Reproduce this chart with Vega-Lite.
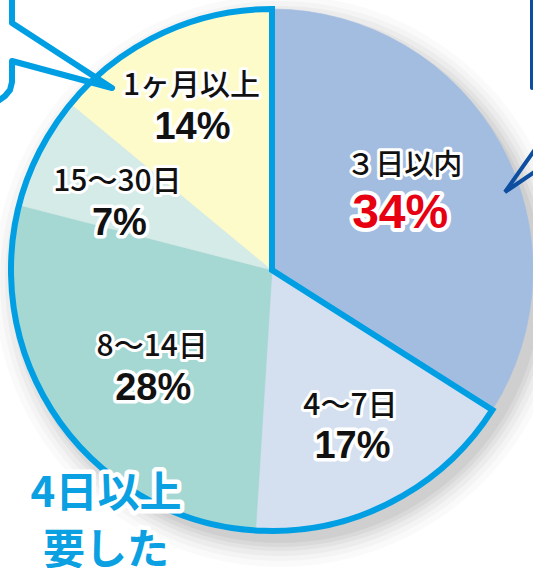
{
  "$schema": "https://vega.github.io/schema/vega-lite/v6.json",
  "width": 544,
  "height": 540,
  "autosize": "none",
  "padding": {"left": 0, "top": 0, "right": 0, "bottom": 28},
  "background": "white",
  "config": {"view": {"stroke": null}},
  "datasets": {
    "slices": [
      {"cat": "３日以内", "share": 0.34, "order": 1},
      {"cat": "4〜7日", "share": 0.17, "order": 2},
      {"cat": "8〜14日", "share": 0.28, "order": 3},
      {"cat": "15〜30日", "share": 0.07, "order": 4},
      {"cat": "1ヶ月以上", "share": 0.14, "order": 5}
    ],
    "group": [
      {"g": "3日以内", "share": 0.34, "order": 1},
      {"g": "4日以上", "share": 0.66, "order": 2}
    ],
    "whole": [{"v": 1}],
    "bubbleL": [
      {"seq": 1, "x": 12, "y": -3},
      {"seq": 2, "x": 12, "y": 23},
      {"seq": 3, "x": 112, "y": 88},
      {"seq": 4, "x": 12, "y": 61},
      {"seq": 5, "x": 12, "y": 82},
      {"seq": 6, "x": 10, "y": 90},
      {"seq": 7, "x": 5, "y": 96},
      {"seq": 8, "x": -2, "y": 101}
    ],
    "bubbleR": [
      {"part": "a", "seq": 1, "x": 532, "y": -3},
      {"part": "a", "seq": 2, "x": 532, "y": 88},
      {"part": "b", "seq": 1, "x": 536, "y": 148},
      {"part": "b", "seq": 2, "x": 505, "y": 192},
      {"part": "b", "seq": 3, "x": 536, "y": 171}
    ],
    "note": [{"t": "4日以上\n要した", "x": 106, "y": 494}]
  },
  "layer": [
    {"data": {"name": "whole"}, "mark": {"type": "arc", "radius": 262, "fill": "#000", "opacity": 0.04, "xOffset": 8, "yOffset": 11}, "encoding": {"theta": {"field": "v", "type": "quantitative"}}},
    {"data": {"name": "whole"}, "mark": {"type": "arc", "radius": 266, "fill": "#000", "opacity": 0.04, "xOffset": 8, "yOffset": 11}, "encoding": {"theta": {"field": "v", "type": "quantitative"}}},
    {"data": {"name": "whole"}, "mark": {"type": "arc", "radius": 270, "fill": "#000", "opacity": 0.035, "xOffset": 8, "yOffset": 11}, "encoding": {"theta": {"field": "v", "type": "quantitative"}}},
    {"data": {"name": "whole"}, "mark": {"type": "arc", "radius": 275, "fill": "#000", "opacity": 0.03, "xOffset": 8, "yOffset": 11}, "encoding": {"theta": {"field": "v", "type": "quantitative"}}},
    {"data": {"name": "whole"}, "mark": {"type": "arc", "radius": 280, "fill": "#000", "opacity": 0.025, "xOffset": 8, "yOffset": 11}, "encoding": {"theta": {"field": "v", "type": "quantitative"}}},
    {"data": {"name": "whole"}, "mark": {"type": "arc", "radius": 286, "fill": "#000", "opacity": 0.02, "xOffset": 8, "yOffset": 11}, "encoding": {"theta": {"field": "v", "type": "quantitative"}}},
    {
      "data": {"name": "slices"},
      "mark": {"type": "arc", "radius": 261, "strokeWidth": 0.6},
      "encoding": {
        "theta": {"field": "share", "type": "quantitative", "stack": true},
        "order": {"field": "order", "type": "quantitative"},
        "color": {"field": "cat", "type": "nominal", "legend": null,
          "scale": {"domain": ["３日以内", "4〜7日", "8〜14日", "15〜30日", "1ヶ月以上"],
                    "range": ["#a3bde1", "#d4dff0", "#a5d8d3", "#d5ebe8", "#fefbcb"]}},
        "stroke": {"field": "cat", "type": "nominal", "legend": null,
          "scale": {"domain": ["３日以内", "4〜7日", "8〜14日", "15〜30日", "1ヶ月以上"],
                    "range": ["#a3bde1", "#d4dff0", "#a5d8d3", "#d5ebe8", "#fefbcb"]}}
      }
    },
    {
      "data": {"name": "group"},
      "mark": {"type": "arc", "radius": 261, "fillOpacity": 0, "stroke": "#009fe3", "strokeWidth": 6, "strokeJoin": "miter"},
      "encoding": {
        "theta": {"field": "share", "type": "quantitative", "stack": true},
        "order": {"field": "order", "type": "quantitative"},
        "strokeOpacity": {"condition": {"test": "datum.g === '4日以上'", "value": 1}, "value": 0}
      }
    },

    {"data": {"name": "slices"}, "mark": {"type": "text", "radius": 152, "dx": -1, "dy": -31, "font": "Noto Sans CJK JP", "fontWeight": 500, "fontSize": 29, "align": "center", "baseline": "middle", "fill": "white", "stroke": "white", "strokeWidth": 6, "strokeJoin": "round"},
     "encoding": {"theta": {"field": "share", "type": "quantitative", "stack": true}, "order": {"field": "order", "type": "quantitative"}, "text": {"field": "cat"},
       "opacity": {"condition": {"test": "datum.order === 1", "value": 1}, "value": 0}}},
    {"data": {"name": "slices"}, "mark": {"type": "text", "radius": 152, "dx": -1, "dy": -31, "font": "Noto Sans CJK JP", "fontWeight": 500, "fontSize": 29, "align": "center", "baseline": "middle", "fill": "#111"},
     "encoding": {"theta": {"field": "share", "type": "quantitative", "stack": true}, "order": {"field": "order", "type": "quantitative"}, "text": {"field": "cat"},
       "opacity": {"condition": {"test": "datum.order === 1", "value": 1}, "value": 0}}},
    {"data": {"name": "slices"}, "mark": {"type": "text", "radius": 152, "dx": -5, "dy": 17, "font": "Liberation Sans", "fontWeight": "bold", "fontSize": 48, "align": "center", "baseline": "middle", "fill": "white", "stroke": "white", "strokeWidth": 8, "strokeJoin": "round"},
     "encoding": {"theta": {"field": "share", "type": "quantitative", "stack": true}, "order": {"field": "order", "type": "quantitative"}, "text": {"field": "share", "type": "quantitative", "format": ".0%"},
       "opacity": {"condition": {"test": "datum.order === 1", "value": 1}, "value": 0}}},
    {"data": {"name": "slices"}, "mark": {"type": "text", "radius": 152, "dx": -5, "dy": 17, "font": "Liberation Sans", "fontWeight": "bold", "fontSize": 48, "align": "center", "baseline": "middle", "fill": "#e60012"},
     "encoding": {"theta": {"field": "share", "type": "quantitative", "stack": true}, "order": {"field": "order", "type": "quantitative"}, "text": {"field": "share", "type": "quantitative", "format": ".0%"},
       "opacity": {"condition": {"test": "datum.order === 1", "value": 1}, "value": 0}}},

    {"data": {"name": "slices"}, "mark": {"type": "text", "radius": 175, "dx": -1, "dy": -20, "font": "Noto Sans CJK JP", "fontWeight": 500, "fontSize": 30, "align": "center", "baseline": "middle", "fill": "white", "stroke": "white", "strokeWidth": 6, "strokeJoin": "round"},
     "encoding": {"theta": {"field": "share", "type": "quantitative", "stack": true}, "order": {"field": "order", "type": "quantitative"}, "text": {"field": "cat"},
       "opacity": {"condition": {"test": "datum.order === 2", "value": 1}, "value": 0}}},
    {"data": {"name": "slices"}, "mark": {"type": "text", "radius": 175, "dx": -1, "dy": -20, "font": "Noto Sans CJK JP", "fontWeight": 500, "fontSize": 30, "align": "center", "baseline": "middle", "fill": "#111"},
     "encoding": {"theta": {"field": "share", "type": "quantitative", "stack": true}, "order": {"field": "order", "type": "quantitative"}, "text": {"field": "cat"},
       "opacity": {"condition": {"test": "datum.order === 2", "value": 1}, "value": 0}}},
    {"data": {"name": "slices"}, "mark": {"type": "text", "radius": 175, "dx": 1, "dy": 21, "font": "Liberation Sans", "fontWeight": "bold", "fontSize": 38, "align": "center", "baseline": "middle", "fill": "white", "stroke": "white", "strokeWidth": 7, "strokeJoin": "round"},
     "encoding": {"theta": {"field": "share", "type": "quantitative", "stack": true}, "order": {"field": "order", "type": "quantitative"}, "text": {"field": "share", "type": "quantitative", "format": ".0%"},
       "opacity": {"condition": {"test": "datum.order === 2", "value": 1}, "value": 0}}},
    {"data": {"name": "slices"}, "mark": {"type": "text", "radius": 175, "dx": 1, "dy": 21, "font": "Liberation Sans", "fontWeight": "bold", "fontSize": 38, "align": "center", "baseline": "middle", "fill": "#111"},
     "encoding": {"theta": {"field": "share", "type": "quantitative", "stack": true}, "order": {"field": "order", "type": "quantitative"}, "text": {"field": "share", "type": "quantitative", "format": ".0%"},
       "opacity": {"condition": {"test": "datum.order === 2", "value": 1}, "value": 0}}},

    {"data": {"name": "slices"}, "mark": {"type": "text", "radius": 153, "dx": 4, "dy": -13, "font": "Noto Sans CJK JP", "fontWeight": 500, "fontSize": 30, "align": "center", "baseline": "middle", "fill": "white", "stroke": "white", "strokeWidth": 6, "strokeJoin": "round"},
     "encoding": {"theta": {"field": "share", "type": "quantitative", "stack": true}, "order": {"field": "order", "type": "quantitative"}, "text": {"field": "cat"},
       "opacity": {"condition": {"test": "datum.order === 3", "value": 1}, "value": 0}}},
    {"data": {"name": "slices"}, "mark": {"type": "text", "radius": 153, "dx": 4, "dy": -13, "font": "Noto Sans CJK JP", "fontWeight": 500, "fontSize": 30, "align": "center", "baseline": "middle", "fill": "#111"},
     "encoding": {"theta": {"field": "share", "type": "quantitative", "stack": true}, "order": {"field": "order", "type": "quantitative"}, "text": {"field": "cat"},
       "opacity": {"condition": {"test": "datum.order === 3", "value": 1}, "value": 0}}},
    {"data": {"name": "slices"}, "mark": {"type": "text", "radius": 153, "dx": 5, "dy": 29, "font": "Liberation Sans", "fontWeight": "bold", "fontSize": 38, "align": "center", "baseline": "middle", "fill": "white", "stroke": "white", "strokeWidth": 7, "strokeJoin": "round"},
     "encoding": {"theta": {"field": "share", "type": "quantitative", "stack": true}, "order": {"field": "order", "type": "quantitative"}, "text": {"field": "share", "type": "quantitative", "format": ".0%"},
       "opacity": {"condition": {"test": "datum.order === 3", "value": 1}, "value": 0}}},
    {"data": {"name": "slices"}, "mark": {"type": "text", "radius": 153, "dx": 5, "dy": 29, "font": "Liberation Sans", "fontWeight": "bold", "fontSize": 38, "align": "center", "baseline": "middle", "fill": "#111"},
     "encoding": {"theta": {"field": "share", "type": "quantitative", "stack": true}, "order": {"field": "order", "type": "quantitative"}, "text": {"field": "share", "type": "quantitative", "format": ".0%"},
       "opacity": {"condition": {"test": "datum.order === 3", "value": 1}, "value": 0}}},

    {"data": {"name": "slices"}, "mark": {"type": "text", "radius": 169, "dx": -4, "dy": -11, "font": "Noto Sans CJK JP", "fontWeight": 500, "fontSize": 30, "align": "center", "baseline": "middle", "fill": "white", "stroke": "white", "strokeWidth": 6, "strokeJoin": "round"},
     "encoding": {"theta": {"field": "share", "type": "quantitative", "stack": true}, "order": {"field": "order", "type": "quantitative"}, "text": {"field": "cat"},
       "opacity": {"condition": {"test": "datum.order === 4", "value": 1}, "value": 0}}},
    {"data": {"name": "slices"}, "mark": {"type": "text", "radius": 169, "dx": -4, "dy": -11, "font": "Noto Sans CJK JP", "fontWeight": 500, "fontSize": 30, "align": "center", "baseline": "middle", "fill": "#111"},
     "encoding": {"theta": {"field": "share", "type": "quantitative", "stack": true}, "order": {"field": "order", "type": "quantitative"}, "text": {"field": "cat"},
       "opacity": {"condition": {"test": "datum.order === 4", "value": 1}, "value": 0}}},
    {"data": {"name": "slices"}, "mark": {"type": "text", "radius": 169, "dx": -2, "dy": 31, "font": "Liberation Sans", "fontWeight": "bold", "fontSize": 38, "align": "center", "baseline": "middle", "fill": "white", "stroke": "white", "strokeWidth": 7, "strokeJoin": "round"},
     "encoding": {"theta": {"field": "share", "type": "quantitative", "stack": true}, "order": {"field": "order", "type": "quantitative"}, "text": {"field": "share", "type": "quantitative", "format": ".0%"},
       "opacity": {"condition": {"test": "datum.order === 4", "value": 1}, "value": 0}}},
    {"data": {"name": "slices"}, "mark": {"type": "text", "radius": 169, "dx": -2, "dy": 31, "font": "Liberation Sans", "fontWeight": "bold", "fontSize": 38, "align": "center", "baseline": "middle", "fill": "#111"},
     "encoding": {"theta": {"field": "share", "type": "quantitative", "stack": true}, "order": {"field": "order", "type": "quantitative"}, "text": {"field": "share", "type": "quantitative", "format": ".0%"},
       "opacity": {"condition": {"test": "datum.order === 4", "value": 1}, "value": 0}}},

    {"data": {"name": "slices"}, "mark": {"type": "text", "radius": 182, "dx": -3, "dy": -19, "font": "Noto Sans CJK JP", "fontWeight": 500, "fontSize": 30, "align": "center", "baseline": "middle", "fill": "white", "stroke": "white", "strokeWidth": 6, "strokeJoin": "round"},
     "encoding": {"theta": {"field": "share", "type": "quantitative", "stack": true}, "order": {"field": "order", "type": "quantitative"}, "text": {"field": "cat"},
       "opacity": {"condition": {"test": "datum.order === 5", "value": 1}, "value": 0}}},
    {"data": {"name": "slices"}, "mark": {"type": "text", "radius": 182, "dx": -3, "dy": -19, "font": "Noto Sans CJK JP", "fontWeight": 500, "fontSize": 30, "align": "center", "baseline": "middle", "fill": "#111"},
     "encoding": {"theta": {"field": "share", "type": "quantitative", "stack": true}, "order": {"field": "order", "type": "quantitative"}, "text": {"field": "cat"},
       "opacity": {"condition": {"test": "datum.order === 5", "value": 1}, "value": 0}}},
    {"data": {"name": "slices"}, "mark": {"type": "text", "radius": 182, "dx": -2, "dy": 23, "font": "Liberation Sans", "fontWeight": "bold", "fontSize": 38, "align": "center", "baseline": "middle", "fill": "white", "stroke": "white", "strokeWidth": 7, "strokeJoin": "round"},
     "encoding": {"theta": {"field": "share", "type": "quantitative", "stack": true}, "order": {"field": "order", "type": "quantitative"}, "text": {"field": "share", "type": "quantitative", "format": ".0%"},
       "opacity": {"condition": {"test": "datum.order === 5", "value": 1}, "value": 0}}},
    {"data": {"name": "slices"}, "mark": {"type": "text", "radius": 182, "dx": -2, "dy": 23, "font": "Liberation Sans", "fontWeight": "bold", "fontSize": 38, "align": "center", "baseline": "middle", "fill": "#111"},
     "encoding": {"theta": {"field": "share", "type": "quantitative", "stack": true}, "order": {"field": "order", "type": "quantitative"}, "text": {"field": "share", "type": "quantitative", "format": ".0%"},
       "opacity": {"condition": {"test": "datum.order === 5", "value": 1}, "value": 0}}},

    {
      "data": {"name": "bubbleL"},
      "mark": {"type": "line", "stroke": "#009fe3", "strokeWidth": 6, "strokeCap": "round", "strokeJoin": "round"},
      "encoding": {
        "x": {"field": "x", "type": "quantitative", "scale": {"domain": [0, 544], "nice": false, "zero": false}, "axis": null},
        "y": {"field": "y", "type": "quantitative", "scale": {"domain": [0, 540], "nice": false, "zero": false, "reverse": true}, "axis": null},
        "order": {"field": "seq", "type": "quantitative"}
      }
    },
    {
      "data": {"name": "bubbleR"},
      "mark": {"type": "line", "stroke": "#0d4ea0", "strokeWidth": 4, "strokeCap": "round", "strokeJoin": "miter"},
      "encoding": {
        "x": {"field": "x", "type": "quantitative"},
        "y": {"field": "y", "type": "quantitative"},
        "detail": {"field": "part"},
        "order": {"field": "seq", "type": "quantitative"}
      }
    },
    {
      "data": {"name": "note"},
      "mark": {"type": "text", "lineBreak": "\n", "lineHeight": 57, "font": "Noto Sans CJK JP", "fontWeight": "bold", "fontSize": 42, "align": "center", "baseline": "middle", "fill": "white", "stroke": "white", "strokeWidth": 9, "strokeJoin": "round"},
      "encoding": {
        "x": {"field": "x", "type": "quantitative"},
        "y": {"field": "y", "type": "quantitative"},
        "text": {"field": "t"}
      }
    },
    {
      "data": {"name": "note"},
      "mark": {"type": "text", "lineBreak": "\n", "lineHeight": 57, "font": "Noto Sans CJK JP", "fontWeight": "bold", "fontSize": 42, "align": "center", "baseline": "middle", "fill": "#0aa0e2"},
      "encoding": {
        "x": {"field": "x", "type": "quantitative"},
        "y": {"field": "y", "type": "quantitative"},
        "text": {"field": "t"}
      }
    }
  ]
}
